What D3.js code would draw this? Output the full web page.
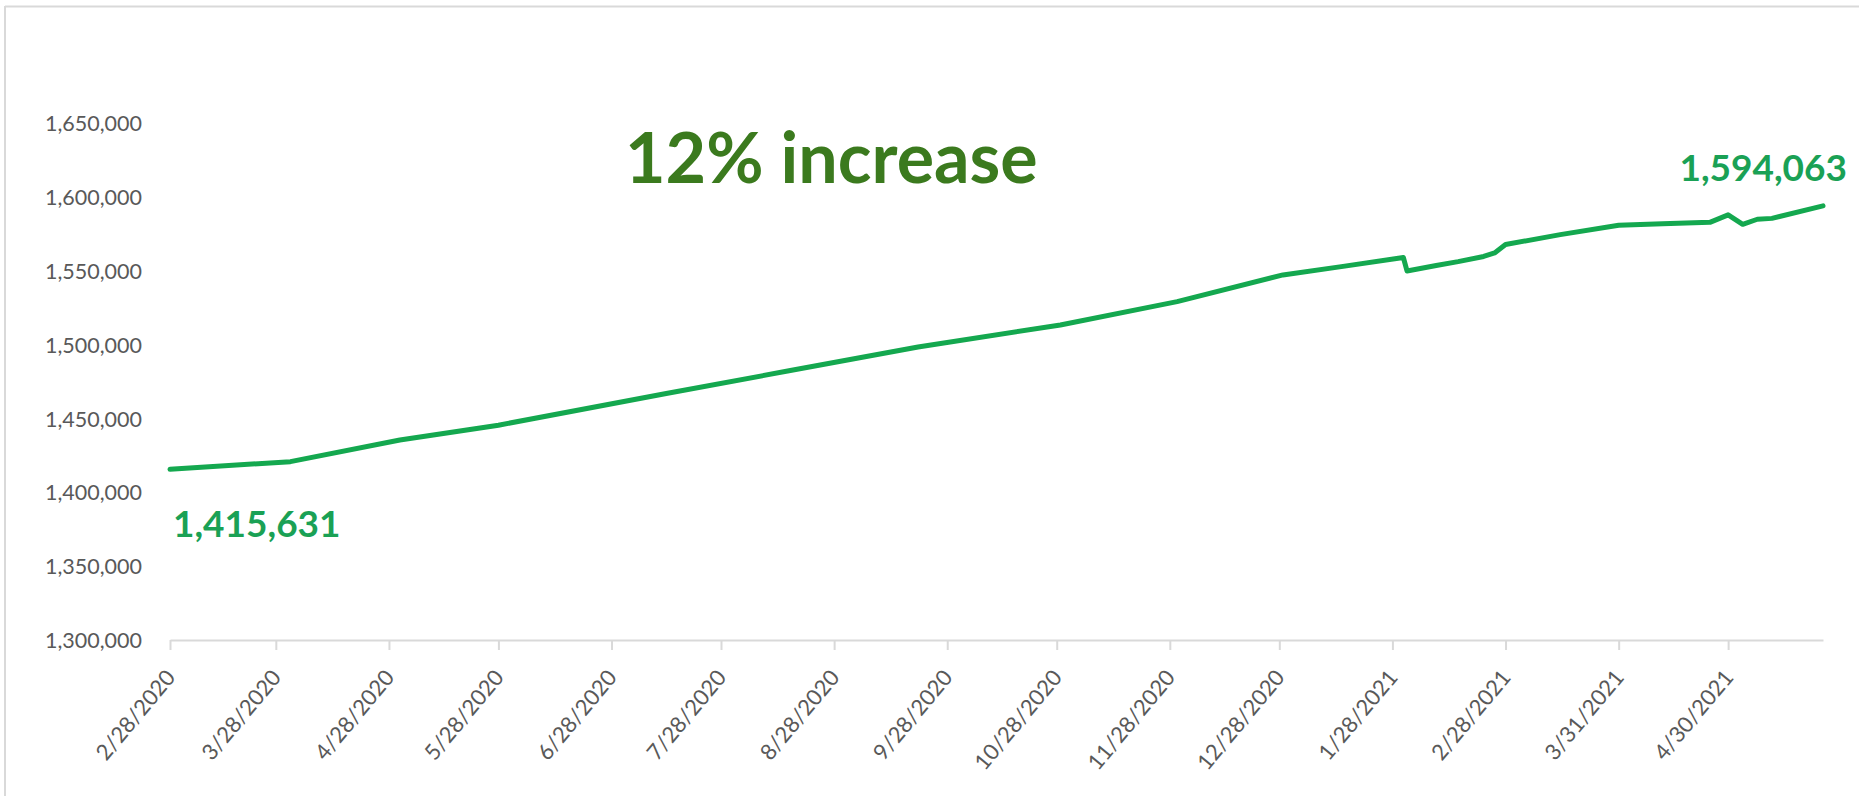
<!DOCTYPE html>
<html>
<head>
<meta charset="utf-8">
<script src="https://cdn.jsdelivr.net/npm/d3@7"></script>
<style>
  html, body { margin: 0; padding: 0; background: #fff; }
  svg { display: block; }
</style>
</head>
<body>
<svg id="chart" width="1859" height="796"></svg>
<script>
// ---- data ----
const dates = ["2020-02-28","2020-04-01","2020-05-01","2020-05-28","2020-07-13","2020-08-16",
  "2020-09-20","2020-10-29","2020-11-30","2020-12-29","2021-01-14","2021-01-31","2021-02-01",
  "2021-02-09","2021-02-15","2021-02-22","2021-02-25","2021-02-28","2021-03-15","2021-03-31",
  "2021-04-12","2021-04-25","2021-04-30","2021-05-04","2021-05-08","2021-05-12","2021-05-26"];
const enrollment = [1415631,1420800,1435500,1445500,1467000,1482500,
  1498500,1513400,1529200,1547300,1552900,1559100,1550000,
  1553700,1556300,1559800,1562200,1567900,1574600,1580900,
  1581900,1582900,1588000,1581600,1585000,1585600,1594063];
const tickDates = ["2020-02-28","2020-03-28","2020-04-28","2020-05-28","2020-06-28","2020-07-28",
  "2020-08-28","2020-09-28","2020-10-28","2020-11-28","2020-12-28","2021-01-28","2021-02-28",
  "2021-03-31","2021-04-30"];
const yTicks = [1300000,1350000,1400000,1450000,1500000,1550000,1600000,1650000];
const titleText = "12% increase";
const startLabel = "1,415,631";
const endLabel = "1,594,063";

// ---- setup ----
const parse = d3.utcParse("%Y-%m-%d");
const data = dates.map((d, i) => ({ date: parse(d), value: enrollment[i] }));
const svg = d3.select("#chart");

const x = d3.scaleUtc()
  .domain([parse("2020-02-28"), parse("2021-05-26")])
  .range([170, 1823]);
const y = d3.scaleLinear()
  .domain([1300000, 1650000])
  .range([640, 123.3]);

// frame (top + left)
svg.append("line").attr("x1", 5).attr("x2", 1859).attr("y1", 6.5).attr("y2", 6.5)
  .attr("stroke", "#d9d9d9").attr("stroke-width", 2);
svg.append("line").attr("x1", 5).attr("x2", 5).attr("y1", 6).attr("y2", 796)
  .attr("stroke", "#d9d9d9").attr("stroke-width", 2);

// y axis (labels only)
const fmt = d3.format(",");
const yAxis = d3.axisLeft(y).tickValues(yTicks).tickFormat(fmt).tickSize(0).tickPadding(0);
const gy = svg.append("g").attr("transform", "translate(142,0)").call(yAxis);
gy.select(".domain").remove();
gy.selectAll("text")
  .attr("font-family", "Lato, 'Open Sans', sans-serif")
  .attr("font-size", 21.5)
  .attr("fill", "#595959")
  .attr("dy", "0.35em");

// x axis
const xAxis = d3.axisBottom(x)
  .tickValues(tickDates.map(parse))
  .tickFormat(d3.utcFormat("%-m/%-d/%Y"))
  .tickSize(10).tickSizeOuter(0);
const gx = svg.append("g").attr("transform", "translate(0,640)").call(xAxis);
gx.select(".domain").attr("stroke", "#d9d9d9").attr("stroke-width", 2);
gx.selectAll(".tick line").attr("stroke", "#d9d9d9").attr("stroke-width", 2);
gx.selectAll(".tick text")
  .attr("font-family", "Lato, 'Open Sans', sans-serif")
  .attr("font-size", 22)
  .attr("fill", "#595959")
  .attr("text-anchor", "end")
  .attr("y", 0).attr("dy", 0)
  .attr("transform", "translate(6,38) rotate(-50)");

// line
const line = d3.line().x(d => x(d.date)).y(d => y(d.value)).curve(d3.curveLinear);
svg.append("path").datum(data)
  .attr("d", line)
  .attr("fill", "none")
  .attr("stroke", "#14a84f")
  .attr("stroke-width", 5)
  .attr("stroke-linejoin", "round")
  .attr("stroke-linecap", "round");

// annotations
const first = data[0], last = data[data.length - 1];
svg.append("text")
  .attr("x", x(first.date) + 3).attr("y", y(first.value) + 68)
  .attr("font-family", "Lato, 'Open Sans', sans-serif")
  .attr("font-weight", "bold")
  .attr("font-size", 37)
  .attr("fill", "#1aa155")
  .text(startLabel);
svg.append("text")
  .attr("x", x(last.date) + 24).attr("y", y(last.value) - 25)
  .attr("text-anchor", "end")
  .attr("font-family", "Lato, 'Open Sans', sans-serif")
  .attr("font-weight", "bold")
  .attr("font-size", 37)
  .attr("fill", "#1aa155")
  .text(endLabel);

// title
svg.append("text")
  .attr("x", 625).attr("y", 182.7)
  .attr("font-family", "Lato, 'Open Sans', sans-serif")
  .attr("font-weight", "bold")
  .attr("font-size", 70)
  .attr("fill", "#3b7a1e")
  .text(titleText);
</script>
</body>
</html>
